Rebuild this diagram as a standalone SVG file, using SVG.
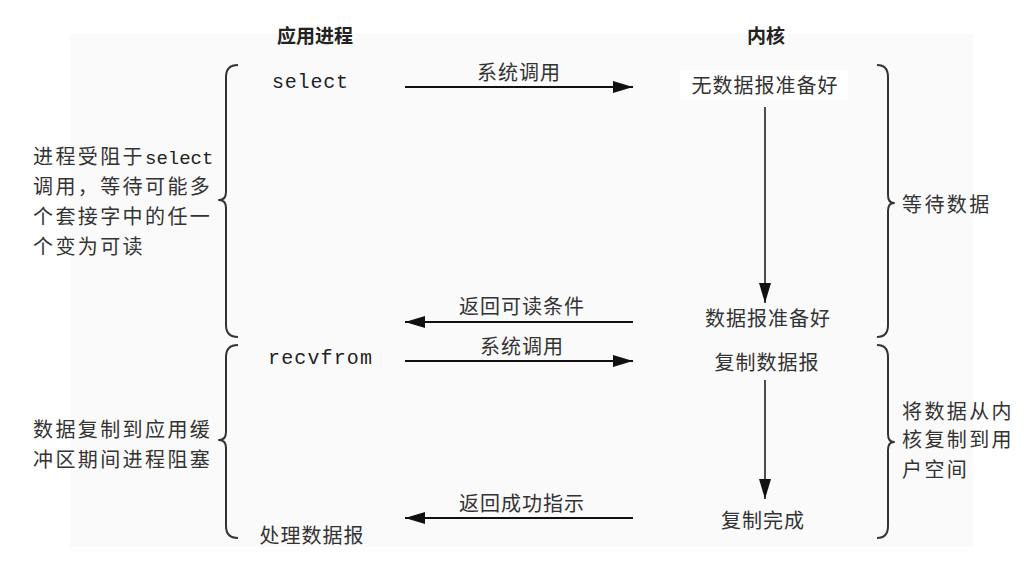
<svg xmlns="http://www.w3.org/2000/svg" width="1035" height="565" viewBox="0 0 1035 565">
<style>
.title{font-family:"Noto Sans CJK SC","Noto Sans",sans-serif;font-weight:bold;font-size:19px;fill:#222;text-anchor:middle}
.k{font-family:"Noto Sans CJK SC","Noto Sans",sans-serif;font-size:20px;fill:#333;text-anchor:middle;letter-spacing:1px}
.lab{font-family:"Noto Sans CJK SC","Noto Sans",sans-serif;font-size:20px;fill:#333;text-anchor:middle;letter-spacing:1px}
.side{font-family:"Noto Sans CJK SC","Noto Sans",sans-serif;font-size:20px;fill:#333;letter-spacing:2.4px}
.mono{font-family:"Liberation Mono","DejaVu Sans Mono",monospace;fill:#222}
.arr{stroke:#111;stroke-width:2;fill:none}
.varr{stroke:#222;stroke-width:1.6;fill:none}
.brace{stroke:#333;stroke-width:2;fill:none;stroke-linejoin:round}
</style>
<defs>
<marker id="ah" markerUnits="userSpaceOnUse" markerWidth="22" markerHeight="12" refX="20" refY="6" orient="auto">
<path d="M0,0 L20,6 L0,12 Z" fill="#111"/>
</marker>
</defs>
<rect x="70" y="34" width="903" height="513" fill="#fafafa"/>
<g id="headers">
<text class="title" x="315" y="43">应用进程</text>
<text class="title" x="766" y="43">内核</text>
</g>
<g id="connectors">
<line class="arr" x1="405" y1="87" x2="633" y2="87" marker-end="url(#ah)"/>
<line class="varr" x1="765" y1="107" x2="765" y2="303" marker-end="url(#ah)"/>
<line class="arr" x1="633" y1="322" x2="405" y2="322" marker-end="url(#ah)"/>
<line class="arr" x1="405" y1="361" x2="633" y2="361" marker-end="url(#ah)"/>
<line class="varr" x1="765" y1="380" x2="765" y2="499" marker-end="url(#ah)"/>
<line class="arr" x1="633" y1="518" x2="405" y2="518" marker-end="url(#ah)"/>
<text class="lab" x="519" y="80">系统调用</text>
<text class="lab" x="522" y="314">返回可读条件</text>
<text class="lab" x="522" y="354">系统调用</text>
<text class="lab" x="522" y="511">返回成功指示</text>
</g>
<g id="select">
<text class="mono" x="272" y="88" font-size="20" textLength="76">select</text>
</g>
<g id="recvfrom">
<text class="mono" x="268" y="364" font-size="20" textLength="104">recvfrom</text>
</g>
<g id="process">
<text class="k" x="312" y="543">处理数据报</text>
</g>
<g id="no-data">
<rect x="680" y="70" width="168" height="30" fill="#fff"/>
<text class="k" x="765" y="93">无数据报准备好</text>
</g>
<g id="data-ready">
<text class="k" x="768" y="326">数据报准备好</text>
</g>
<g id="copy">
<text class="k" x="767" y="370">复制数据报</text>
</g>
<g id="copy-done">
<text class="k" x="763" y="528">复制完成</text>
</g>
<g id="left-brace-1">
<path class="brace" d="M238,65 Q226,65 226,77 L226,192 Q226,200 219,200 Q226,200 226,208 L226,325 Q226,337 238,337"/>
<text class="side" x="33" y="164">进程受阻于<tspan class="mono" font-size="19" letter-spacing="0">select</tspan></text>
<text class="side" x="33" y="194">调用，等待可能多</text>
<text class="side" x="33" y="224">个套接字中的任一</text>
<text class="side" x="33" y="254">个变为可读</text>
</g>
<g id="left-brace-2">
<path class="brace" d="M238,345 Q226,345 226,357 L226,432 Q226,440 219,440 Q226,440 226,448 L226,526 Q226,538 238,538"/>
<text class="side" x="33" y="437">数据复制到应用缓</text>
<text class="side" x="33" y="467">冲区期间进程阻塞</text>
</g>
<g id="right-brace-1">
<path class="brace" d="M877,65 Q888,65 888,77 L888,195 Q888,203 894,203 Q888,203 888,211 L888,325 Q888,337 877,337"/>
<text class="side" x="902" y="212" letter-spacing="1.5">等待数据</text>
</g>
<g id="right-brace-2">
<path class="brace" d="M877,345 Q888,345 888,357 L888,434 Q888,442 894,442 Q888,442 888,450 L888,526 Q888,538 877,538"/>
<text class="side" x="902" y="419">将数据从内</text>
<text class="side" x="902" y="447">核复制到用</text>
<text class="side" x="902" y="477">户空间</text>
</g>
</svg>
